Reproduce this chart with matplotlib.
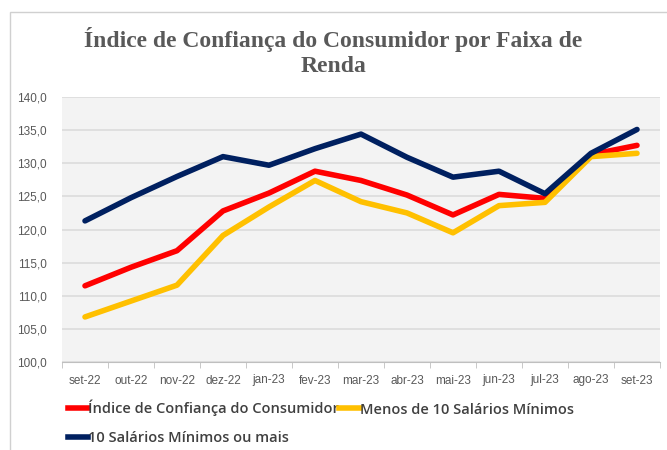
import matplotlib
matplotlib.use("Agg")
import matplotlib.pyplot as plt
from matplotlib.patches import Rectangle
from matplotlib.lines import Line2D
from matplotlib import font_manager

months = ["set-22", "out-22", "nov-22", "dez-22", "jan-23", "fev-23", "mar-23",
          "abr-23", "mai-23", "jun-23", "jul-23", "ago-23", "set-23"]
icc = [111.5, 114.3, 116.8, 122.8, 125.5, 128.8, 127.4, 125.2, 122.2, 125.3, 124.7, 131.3, 132.7]
menos10 = [106.8, 109.2, 111.6, 119.1, 123.4, 127.4, 124.2, 122.5, 119.5, 123.6, 124.1, 131.0, 131.5]
mais10 = [121.3, 124.8, 128.0, 131.0, 129.7, 132.2, 134.4, 130.9, 127.9, 128.8, 125.4, 131.5, 135.1]
yticks = [100, 105, 110, 115, 120, 125, 130, 135, 140]

names = {f.name for f in font_manager.fontManager.ttflist}
narrow = "Liberation Sans Narrow" if "Liberation Sans Narrow" in names else "Liberation Sans"

W, H = 667, 450
fig = plt.figure(figsize=(W / 100, H / 100), dpi=100)
fig.patch.set_facecolor("white")

fig.add_artist(Rectangle((10 / W, -0.1), 1.2, 1 - 12 / H + 0.1, transform=fig.transFigure,
                         fill=False, edgecolor="#d0d0d0", lw=1.0))

ax = fig.add_axes([62 / W, 1 - 362 / H, 598 / W, 265 / H])
ax.set_facecolor("#f3f3f3")
x = list(range(len(months)))
ax.plot(x, icc, color="#ff0000", lw=4, solid_capstyle="round", zorder=3)
ax.plot(x, menos10, color="#ffc000", lw=4, solid_capstyle="round", zorder=3)
ax.plot(x, mais10, color="#002060", lw=4, solid_capstyle="round", zorder=4)

ax.set_xlim(-0.5, len(months) - 0.5)
ax.set_ylim(100, 140)
ax.set_yticks(yticks)
ax.set_yticklabels([f"{v:.1f}".replace(".", ",") for v in yticks], family=narrow)
ax.set_xticks(x)
ax.set_xticklabels(months, family=narrow)
ax.set_xticks([i - 0.5 for i in range(len(months) + 1)], minor=True)
ax.tick_params(axis="x", which="major", length=0, pad=9, labelsize=8.5, labelcolor="#595959")
ax.tick_params(axis="x", which="minor", length=4, color="#bfbfbf")
ax.tick_params(axis="y", length=0, pad=11, labelsize=8.5, labelcolor="#595959")
ax.grid(axis="y", color="#dcdcdc", lw=1.2)
ax.set_axisbelow(True)
for s in ["top", "right", "left"]:
    ax.spines[s].set_visible(False)
ax.spines["bottom"].set_color("#bfbfbf")

fig.text(0.5, 1 - 40 / H, "Índice de Confiança do Consumidor por Faixa de",
         ha="center", va="center", fontsize=17, fontweight="bold", color="#595959",
         family="Liberation Serif")
fig.text(0.5, 1 - 67 / H, "Renda",
         ha="center", va="center", fontsize=17, fontweight="bold", color="#595959",
         family="Liberation Serif")

handles = [Line2D([], [], color="#ff0000", lw=4),
           Line2D([], [], color="#002060", lw=4),
           Line2D([], [], color="#ffc000", lw=4)]
labels = ["Índice de Confiança do Consumidor", "10 Salários Mínimos ou mais",
          "Menos de 10 Salários Mínimos"]
fig.legend(handles, labels, ncol=2, loc="upper left", bbox_to_anchor=(68 / W, 1 - 400 / H),
           frameon=False, handlelength=1.4, handletextpad=0.0,
           columnspacing=0.0, labelspacing=1.0, borderaxespad=0, borderpad=0,
           prop={"family": "Open Sans", "weight": "semibold", "size": 10.5},
           labelcolor="#404040")

fig.savefig("out.png", dpi=100)
